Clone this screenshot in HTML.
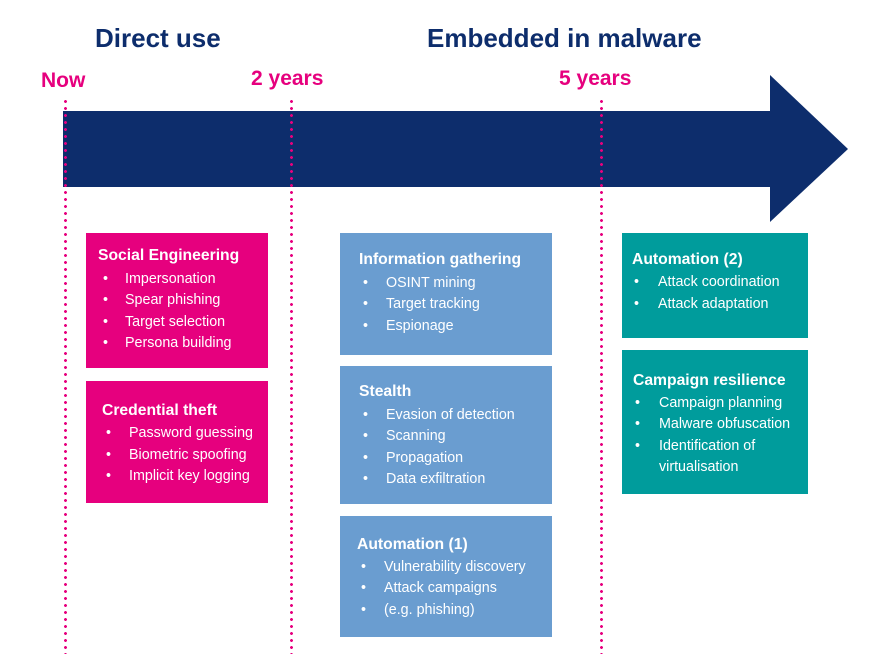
<!DOCTYPE html>
<html><head><meta charset="utf-8"><style>
body{margin:0;width:893px;height:662px;background:#fff;position:relative;overflow:hidden;font-family:"Liberation Sans",sans-serif;}
.a{position:absolute;white-space:nowrap;}
.h{color:#0d2d6c;font-weight:bold;font-size:26px;}
.p{color:#e6007e;font-weight:bold;font-size:21px;}
.box{position:absolute;}
.t{position:absolute;color:#fff;font-weight:bold;font-size:15.7px;white-space:nowrap;}
.i{position:absolute;color:#fff;font-size:14.3px;white-space:nowrap;}
.d{position:absolute;width:3px;top:98px;height:556px;background:radial-gradient(circle,#e6007e 1.3px,transparent 1.6px) 0 0/3px 7px repeat-y;}
</style></head><body>
<div class="a h" style="left:95px;top:23px">Direct use</div>
<div class="a h" style="left:427px;top:23px">Embedded in malware</div>
<div class="a p" style="left:41px;top:69px">Now</div>
<div class="a p" style="left:251px;top:67px">2 years</div>
<div class="a p" style="left:559px;top:67px">5 years</div>
<svg class="a" style="left:0;top:0" width="893" height="662"><rect x="63" y="111" width="708" height="76" fill="#0d2d6c"/><polygon points="770,75 848,149 770,222" fill="#0d2d6c"/></svg>
<div class="d" style="left:64px"></div>
<div class="d" style="left:290px"></div>
<div class="d" style="left:600px"></div>

<div class="box" style="left:86px;top:233px;width:182px;height:135px;background:#e6007e"></div>
<div class="t" style="left:98px;top:247px">Social Engineering</div>
<div class="i" style="left:103px;top:271px">•</div><div class="i" style="left:125px;top:271px">Impersonation</div>
<div class="i" style="left:103px;top:292px">•</div><div class="i" style="left:125px;top:292px">Spear phishing</div>
<div class="i" style="left:103px;top:314px">•</div><div class="i" style="left:125px;top:314px">Target selection</div>
<div class="i" style="left:103px;top:335px">•</div><div class="i" style="left:125px;top:335px">Persona building</div>

<div class="box" style="left:86px;top:381px;width:182px;height:122px;background:#e6007e"></div>
<div class="t" style="left:102px;top:402px">Credential theft</div>
<div class="i" style="left:106px;top:425px">•</div><div class="i" style="left:129px;top:425px">Password guessing</div>
<div class="i" style="left:106px;top:447px">•</div><div class="i" style="left:129px;top:447px">Biometric spoofing</div>
<div class="i" style="left:106px;top:468px">•</div><div class="i" style="left:129px;top:468px">Implicit key logging</div>

<div class="box" style="left:340px;top:233px;width:212px;height:122px;background:#6a9dd0"></div>
<div class="t" style="left:359px;top:251px">Information gathering</div>
<div class="i" style="left:363px;top:275px">•</div><div class="i" style="left:386px;top:275px">OSINT mining</div>
<div class="i" style="left:363px;top:296px">•</div><div class="i" style="left:386px;top:296px">Target tracking</div>
<div class="i" style="left:363px;top:318px">•</div><div class="i" style="left:386px;top:318px">Espionage</div>

<div class="box" style="left:340px;top:366px;width:212px;height:138px;background:#6a9dd0"></div>
<div class="t" style="left:359px;top:383px">Stealth</div>
<div class="i" style="left:363px;top:407px">•</div><div class="i" style="left:386px;top:407px">Evasion of detection</div>
<div class="i" style="left:363px;top:428px">•</div><div class="i" style="left:386px;top:428px">Scanning</div>
<div class="i" style="left:363px;top:450px">•</div><div class="i" style="left:386px;top:450px">Propagation</div>
<div class="i" style="left:363px;top:471px">•</div><div class="i" style="left:386px;top:471px">Data exfiltration</div>

<div class="box" style="left:340px;top:516px;width:212px;height:121px;background:#6a9dd0"></div>
<div class="t" style="left:357px;top:536px">Automation (1)</div>
<div class="i" style="left:361px;top:559px">•</div><div class="i" style="left:384px;top:559px">Vulnerability discovery</div>
<div class="i" style="left:361px;top:580px">•</div><div class="i" style="left:384px;top:580px">Attack campaigns</div>
<div class="i" style="left:361px;top:602px">•</div><div class="i" style="left:384px;top:602px">(e.g. phishing)</div>

<div class="box" style="left:622px;top:233px;width:186px;height:105px;background:#009c9c"></div>
<div class="t" style="left:632px;top:251px">Automation (2)</div>
<div class="i" style="left:634px;top:274px">•</div><div class="i" style="left:658px;top:274px">Attack coordination</div>
<div class="i" style="left:634px;top:296px">•</div><div class="i" style="left:658px;top:296px">Attack adaptation</div>

<div class="box" style="left:622px;top:350px;width:186px;height:144px;background:#009c9c"></div>
<div class="t" style="left:633px;top:372px">Campaign resilience</div>
<div class="i" style="left:635px;top:395px">•</div><div class="i" style="left:659px;top:395px">Campaign planning</div>
<div class="i" style="left:635px;top:416px">•</div><div class="i" style="left:659px;top:416px">Malware obfuscation</div>
<div class="i" style="left:635px;top:438px">•</div><div class="i" style="left:659px;top:438px">Identification of</div>
<div class="i" style="left:659px;top:459px">virtualisation</div>
</body></html>
